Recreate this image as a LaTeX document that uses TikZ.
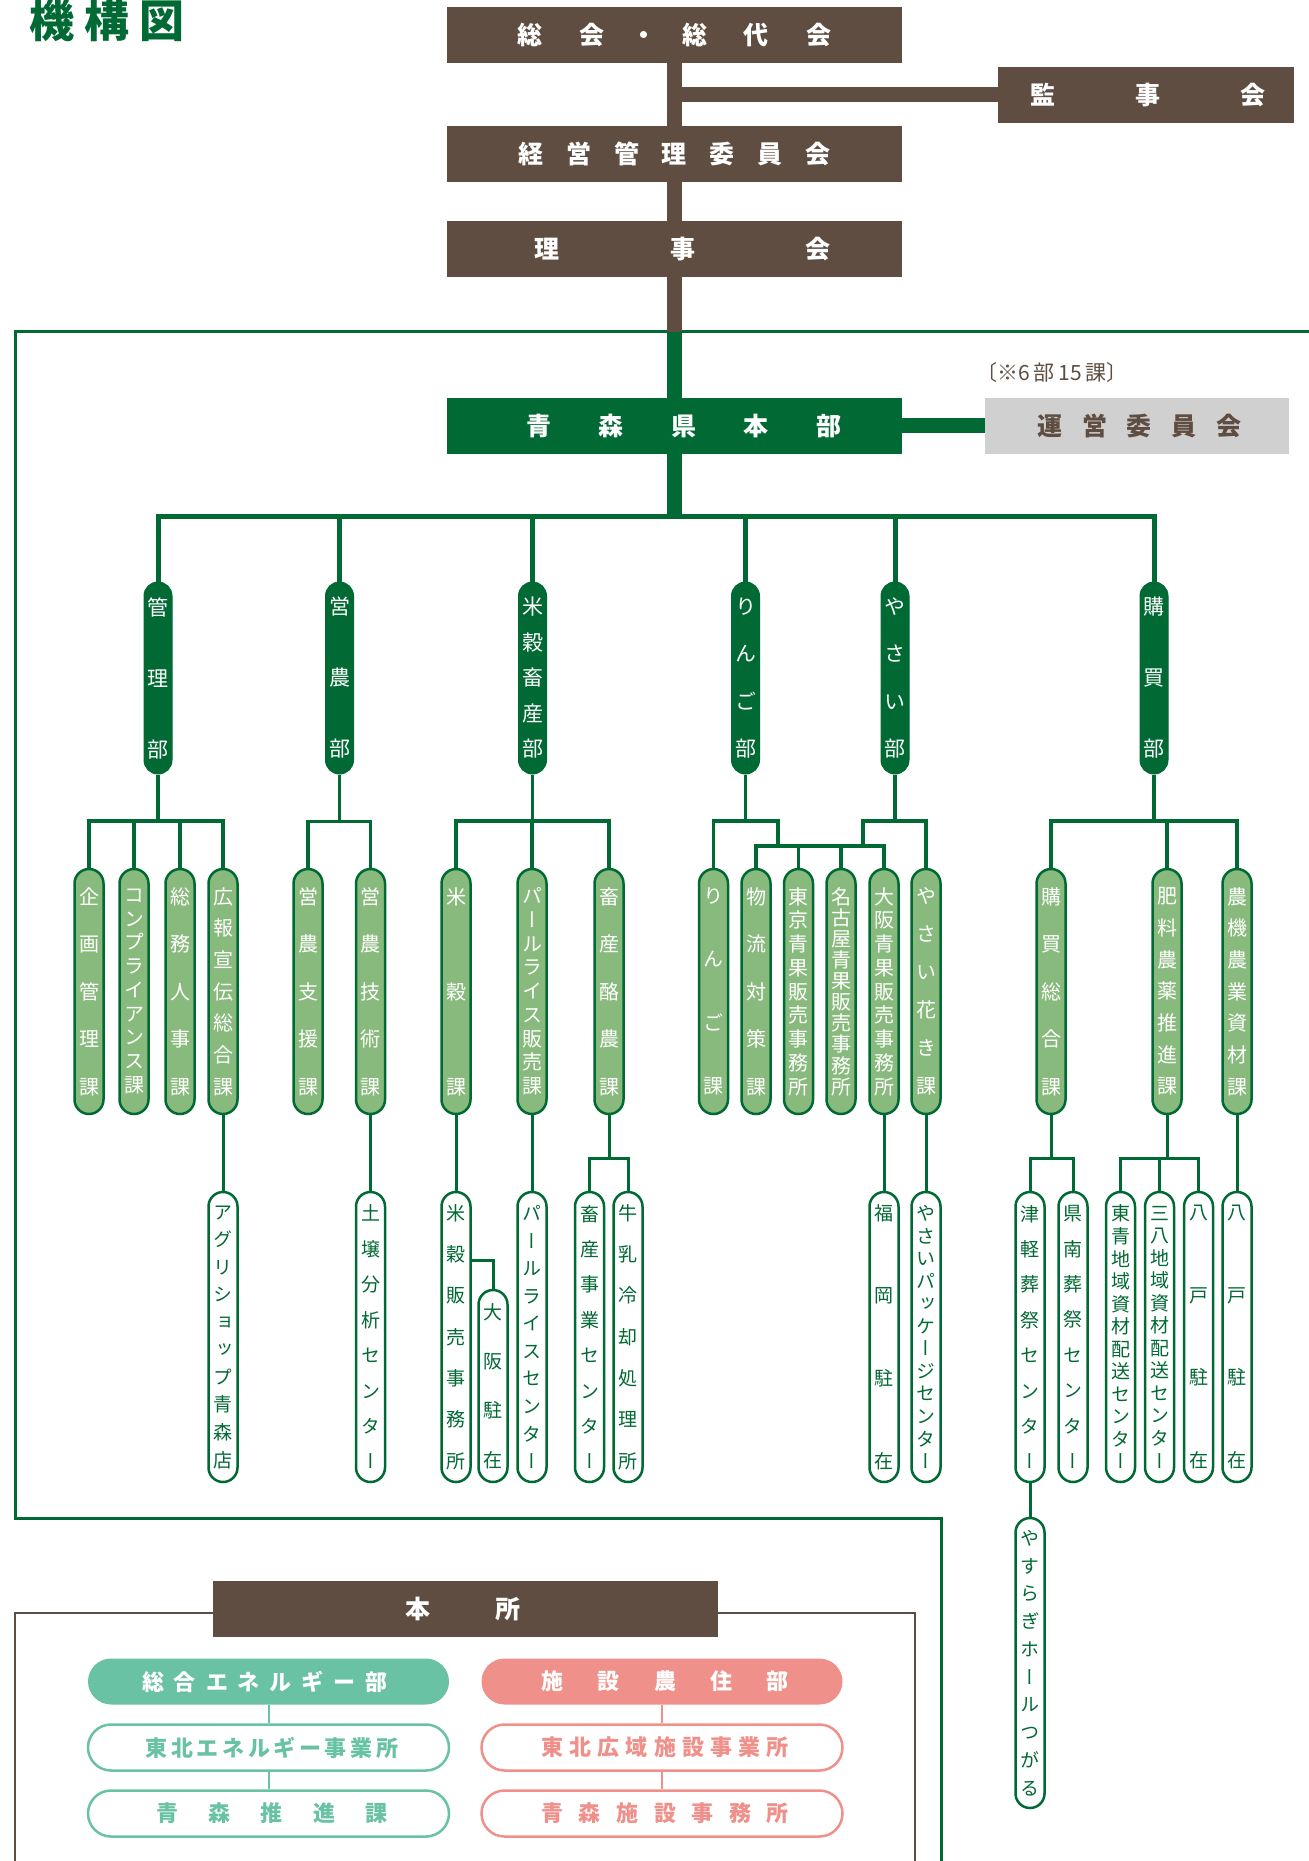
\documentclass[tikz,border=0pt]{standalone}
\usepackage{fontspec}
\setmainfont{Noto Sans CJK JP}
\newfontfamily\cjk{Noto Sans CJK JP}
\newfontfamily\cjkv{Noto Sans CJK JP}[RawFeature=+vert]
\definecolor{brownc}{HTML}{5E4D40}
\definecolor{dgreen}{HTML}{006934}
\definecolor{sgreen}{HTML}{89BA7D}
\definecolor{tealc}{HTML}{69C2A3}
\definecolor{pinkc}{HTML}{F0908A}
\definecolor{grayc}{HTML}{D0D0D0}
\makeatletter
\newcommand\spaced[2]{\def\sp@gap{#1}\sp@first#2\@nil}
\def\sp@first#1{#1\sp@next}
\def\sp@next#1{\ifx#1\@nil\else\hspace{\sp@gap}#1\expandafter\sp@next\fi}
\makeatother
\tikzset{
  brownbox/.style={rectangle, fill=brownc, text=white, inner sep=0pt, minimum height=28pt,
    font=\cjk\bfseries\fontsize{12.5pt}{14pt}\selectfont},
  greenbox/.style={brownbox, fill=dgreen},
  graybox/.style={brownbox, fill=grayc, text=brownc},
  notetext/.style={inner sep=0pt, text=brownc, font=\cjk\fontsize{10.5pt}{12pt}\selectfont},
  titletext/.style={inner sep=0pt, text=dgreen, font=\cjk\bfseries\fontsize{22.5pt}{26pt}\selectfont},
  deptpill/.style={rectangle, rounded corners=7pt, fill=dgreen, draw=dgreen, line width=0.5pt,
    minimum width=14pt, minimum height=96pt, inner sep=0pt, text=white, align=center,
    font={\cjkv\fontsize{10.5pt}{#1}\selectfont\lineskiplimit=-30pt\relax}},
  secpill/.style={rectangle, rounded corners=7.25pt, fill=sgreen, draw=dgreen, line width=1.25pt,
    minimum width=14.5pt, minimum height=122.5pt, inner sep=0pt, text=white, align=center,
    font={\cjkv\fontsize{10pt}{#1}\selectfont\lineskiplimit=-30pt\relax}},
  offpill/.style={rectangle, rounded corners=7.25pt, fill=white, draw=dgreen, line width=1.25pt,
    minimum width=14.5pt, minimum height=145pt, inner sep=0pt, text=dgreen, align=center,
    font={\cjkv\fontsize{9.5pt}{#1}\selectfont\lineskiplimit=-30pt\relax}},
  widepill/.style={rectangle, rounded corners=11.5pt, minimum width=180.5pt, minimum height=23pt,
    inner sep=0pt, font=\cjk\bfseries\fontsize{11pt}{13pt}\selectfont},
  enefill/.style={widepill, fill=tealc, text=white},
  eneline/.style={widepill, fill=white, draw=tealc, line width=1.25pt, text=tealc},
  pinkfill/.style={widepill, fill=pinkc, text=white},
  pinkline/.style={widepill, fill=white, draw=pinkc, line width=1.25pt, text=pinkc},
  mainbus/.style={dgreen, line width=2.5pt},
  subln/.style={dgreen, line width=1.75pt},
  offln/.style={dgreen, line width=1.5pt},
  trunkb/.style={brownc, line width=7.5pt},
  trunkg/.style={dgreen, line width=7.5pt},
  frameg/.style={dgreen, line width=1.5pt},
  frameb/.style={brownc, line width=1.25pt},
  teall/.style={tealc, line width=1pt},
  pinkl/.style={pinkc, line width=1pt},
}
\begin{document}
\begin{tikzpicture}[x=0.5pt,y=-0.5pt]
\useasboundingbox (0,0) rectangle (1309,1861);

% frame of the honbu
\draw[frameg] (1309,332) -- (15,332) -- (15,1518) -- (941,1518) -- (941,1861);

\node[titletext] (title) at (107,20) {\spaced{5pt}{機構図}};

% top governance
\node[brownbox, minimum width=227.5pt] (sokai) at (674.5,35)
  {総\hspace{18.5pt}会\hspace{13.5pt}・\hspace{13pt}総\hspace{18pt}代\hspace{19pt}会};
\node[brownbox, minimum width=148pt] (kansa) at (1146,95) {\hspace*{2pt}\spaced{40pt}{監事会}};
\node[brownbox, minimum width=227.5pt] (keiei) at (674.5,154) {\spaced{11.4pt}{経営管理委員会}};
\node[brownbox, minimum width=227.5pt] (riji) at (674.5,249) {\hspace*{8pt}\spaced{55.25pt}{理事会}};
\node[greenbox, minimum width=227.5pt] (honbu) at (674.5,426) {\hspace*{9.5pt}\spaced{23.75pt}{青森県本部}};
\node[graybox, minimum width=152pt] (unei) at (1137,426) {\hspace*{2.5pt}\spaced{9.9pt}{運営委員会}};
\node[notetext] (note) at (1052,373) {〔※6\,部\,15\,課〕};

\coordinate (fj) at (674.5,332);
\draw[trunkb] (sokai.south) -- (keiei.north);
\draw[trunkb] (sokai.south |- kansa.west) -- (kansa.west);
\draw[trunkb] (keiei.south) -- (riji.north);
\draw[trunkb] (riji.south) -- (fj);
\draw[trunkg] (fj) -- (honbu.north);
\draw[trunkg] (honbu.east) -- (unei.west);

% departments
\node[deptpill=35.5pt] (d1) at (158,678) {管\\理\\部};
\node[deptpill=35.5pt] (d2) at (339.5,678) {営\\農\\部};
\node[deptpill=17.75pt] (d3) at (532.5,678) {米\\穀\\畜\\産\\部};
\node[deptpill=23.67pt] (d4) at (745.5,678) {り\\ん\\ご\\部};
\node[deptpill=23.67pt] (d5) at (895,678) {や\\さ\\い\\部};
\node[deptpill=35.5pt] (d6) at (1154,678) {購\\買\\部};

\draw[trunkg] (honbu.south) -- (honbu.south |- 0,516.5);
\draw[mainbus] (d1.north) -- (d1.north |- 0,516.5) -- (d6.north |- 0,516.5) -- (d6.north);
\foreach \n in {d2,d3,d4,d5} \draw[mainbus] (\n.north) -- (\n.north |- 0,516.5);

% sections
\node[secpill=23.75pt] (s1) at (89,991.5) {企\\画\\管\\理\\課};
\node[secpill=11.875pt] (s2) at (134,991.5) {コ\\ン\\プ\\ラ\\イ\\ア\\ン\\ス\\課};
\node[secpill=23.75pt] (s3) at (180,991.5) {総\\務\\人\\事\\課};
\node[secpill=15.83pt] (s4) at (223,991.5) {広\\報\\宣\\伝\\総\\合\\課};
\node[secpill=23.75pt] (s5) at (308,991.5) {営\\農\\支\\援\\課};
\node[secpill=23.75pt] (s6) at (370.5,991.5) {営\\農\\技\\術\\課};
\node[secpill=47.5pt] (s7) at (456,991.5) {米\\穀\\課};
\node[secpill=11.875pt] (s8) at (532,991.5) {パ\\ー\\ル\\ラ\\イ\\ス\\販\\売\\課};
\node[secpill=23.75pt] (s9) at (609,991.5) {畜\\産\\酪\\農\\課};
\node[secpill=31.67pt] (s10) at (713.5,991.5) {り\\ん\\ご\\課};
\node[secpill=23.75pt] (s11) at (756,991.5) {物\\流\\対\\策\\課};
\node[secpill=11.875pt] (s12) at (798.5,991.5) {東\\京\\青\\果\\販\\売\\事\\務\\所};
\node[secpill=10.56pt] (s13) at (841,991.5) {名\\古\\屋\\青\\果\\販\\売\\事\\務\\所};
\node[secpill=11.875pt] (s14) at (884,991.5) {大\\阪\\青\\果\\販\\売\\事\\務\\所};
\node[secpill=19pt] (s15) at (926,991.5) {や\\さ\\い\\花\\き\\課};
\node[secpill=23.75pt] (s16) at (1051,991.5) {購\\買\\総\\合\\課};
\node[secpill=15.83pt] (s17) at (1167,991.5) {肥\\料\\農\\薬\\推\\進\\課};
\node[secpill=15.83pt] (s18) at (1237,991.5) {農\\機\\農\\業\\資\\材\\課};

% dept -> section connectors
\draw[subln] (d1.south) -- (d1.south |- 0,821);
\draw[subln] (s1.north) -- (s1.north |- 0,821) -- (s4.north |- 0,821) -- (s4.north);
\foreach \n in {s2,s3} \draw[subln] (\n.north) -- (\n.north |- 0,821);

\draw[subln] (d2.south) -- (d2.south |- 0,821.5);
\draw[subln] (s5.north) -- (s5.north |- 0,821.5) -- (s6.north |- 0,821.5) -- (s6.north);

\draw[subln] (d3.south) -- (d3.south |- 0,821);
\draw[subln] (s7.north) -- (s7.north |- 0,821) -- (s9.north |- 0,821) -- (s9.north);
\draw[subln] (s8.north) -- (s8.north |- 0,821);

\coordinate (rj) at (778,846);
\coordinate (yj) at (863,846);
\draw[subln] (d4.south) -- (d4.south |- 0,821);
\draw[subln] (s10.north) -- (s10.north |- 0,821) -- (rj |- 0,821) -- (rj);
\draw[subln] (d5.south) -- (d5.south |- 0,821);
\draw[subln] (yj) -- (yj |- 0,821) -- (s15.north |- 0,821) -- (s15.north);
\draw[subln] (s11.north) -- (s11.north |- 0,846) -- (s14.north |- 0,846) -- (s14.north);
\foreach \n in {s12,s13} \draw[subln] (\n.north) -- (\n.north |- 0,846);

\draw[subln] (d6.south) -- (d6.south |- 0,821);
\draw[subln] (s16.north) -- (s16.north |- 0,821) -- (s18.north |- 0,821) -- (s18.north);
\draw[subln] (s17.north) -- (s17.north |- 0,821);

% offices
\node[offpill=13.78pt] (o1) at (223,1337) {ア\\グ\\リ\\シ\\ョ\\ッ\\プ\\青\\森\\店};
\node[offpill=17.71pt] (o2) at (370.5,1337) {土\\壌\\分\\析\\セ\\ン\\タ\\ー};
\node[offpill=20.67pt] (o3) at (456,1337) {米\\穀\\販\\売\\事\\務\\所};
\node[offpill=24.67pt, minimum height=96pt] (o4) at (493,1386) {大\\阪\\駐\\在};
\node[offpill=13.78pt] (o5) at (532,1337) {パ\\ー\\ル\\ラ\\イ\\ス\\セ\\ン\\タ\\ー};
\node[offpill=17.71pt] (o6) at (589.5,1337) {畜\\産\\事\\業\\セ\\ン\\タ\\ー};
\node[offpill=20.67pt] (o7) at (628,1337) {牛\\乳\\冷\\却\\処\\理\\所};
\node[offpill=41.33pt] (o8) at (884,1337) {福\\岡\\駐\\在};
\node[offpill=11.27pt] (o9) at (926,1337) {や\\さ\\い\\パ\\ッ\\ケ\\ー\\ジ\\セ\\ン\\タ\\ー};
\node[offpill=17.71pt] (o10) at (1030,1337) {津\\軽\\葬\\祭\\セ\\ン\\タ\\ー};
\node[offpill=17.71pt] (o11) at (1073,1337) {県\\南\\葬\\祭\\セ\\ン\\タ\\ー};
\node[offpill=11.27pt] (o12) at (1120.5,1337) {東\\青\\地\\域\\資\\材\\配\\送\\セ\\ン\\タ\\ー};
\node[offpill=11.27pt] (o13) at (1159.5,1337) {三\\八\\地\\域\\資\\材\\配\\送\\セ\\ン\\タ\\ー};
\node[offpill=41.33pt] (o14) at (1198.5,1337) {八\\戸\\駐\\在};
\node[offpill=41.33pt] (o15) at (1237,1337) {八\\戸\\駐\\在};
\node[offpill=13.89pt] (o16) at (1030,1663) {や\\す\\ら\\ぎ\\ホ\\ー\\ル\\つ\\が\\る};

% section -> office connectors
\draw[offln] (s4.south) -- (o1.north);
\draw[offln] (s6.south) -- (o2.north);
\draw[offln] (s7.south) -- (o3.north);
\draw[offln] (o3.east |- 0,1260) -| (o4.north);
\draw[offln] (s8.south) -- (o5.north);
\draw[offln] (s9.south) -- (s9.south |- 0,1158);
\draw[offln] (o6.north) -- (o6.north |- 0,1158) -- (o7.north |- 0,1158) -- (o7.north);
\draw[offln] (s14.south) -- (o8.north);
\draw[offln] (s15.south) -- (o9.north);
\draw[offln] (s16.south) -- (s16.south |- 0,1158);
\draw[offln] (o10.north) -- (o10.north |- 0,1158) -- (o11.north |- 0,1158) -- (o11.north);
\draw[offln] (s17.south) -- (s17.south |- 0,1158);
\draw[offln] (o12.north) -- (o12.north |- 0,1158) -- (o14.north |- 0,1158) -- (o14.north);
\draw[offln] (o13.north) -- (o13.north |- 0,1158);
\draw[offln] (s18.south) -- (o15.north);
\draw[offln] (o10.south) -- (o16.north);

% honsho
\node[brownbox, minimum width=252.5pt] (honsho) at (465.5,1609) {\spaced{32.5pt}{本所}\hspace*{2.5pt}};
\draw[frameb] (honsho.west |- 0,1613) -- (15,1613) -- (15,1861);
\draw[frameb] (honsho.east |- 0,1613) -- (915,1613) -- (915,1861);

\node[enefill] (e1) at (268.5,1681.5) {\spaced{5pt}{総合エネルギー部}\hspace*{3.5pt}};
\node[eneline] (e2) at (268.5,1747.5) {\hspace*{3.5pt}\spaced{1.8pt}{東北エネルギー事業所}};
\node[eneline] (e3) at (268.5,1813.5) {\hspace*{3.5pt}\spaced{15.25pt}{青森推進課}};
\draw[teall] (e1.south) -- (e2.north);
\draw[teall] (e2.south) -- (e3.north);

\node[pinkfill] (p1) at (662,1681.5) {\hspace*{3pt}\spaced{17.25pt}{施設農住部}};
\node[pinkline] (p2) at (662,1747.5) {\hspace*{3pt}\spaced{3.1pt}{東北広域施設事業所}};
\node[pinkline] (p3) at (662,1813.5) {\hspace*{3pt}\spaced{7.8pt}{青森施設事務所}};
\draw[pinkl] (p1.south) -- (p2.north);
\draw[pinkl] (p2.south) -- (p3.north);
\end{tikzpicture}
\end{document}
